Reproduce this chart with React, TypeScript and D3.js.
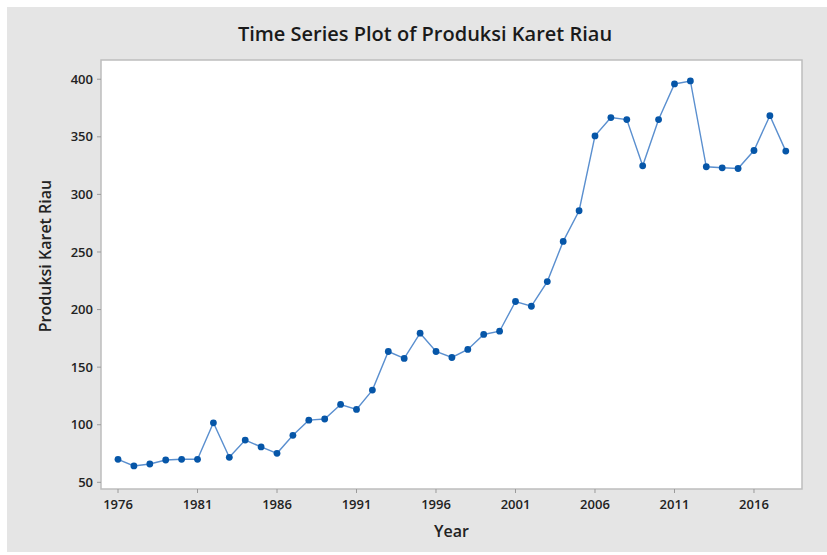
import React from "react";
import * as d3 from "d3";

const years: number[] = [
  1976, 1977, 1978, 1979, 1980, 1981, 1982, 1983, 1984, 1985, 1986, 1987, 1988, 1989, 1990,
  1991, 1992, 1993, 1994, 1995, 1996, 1997, 1998, 1999, 2000, 2001, 2002, 2003, 2004, 2005,
  2006, 2007, 2008, 2009, 2010, 2011, 2012, 2013, 2014, 2015, 2016, 2017, 2018,
];
const produksi: number[] = [
  70, 64.2, 65.9, 69.4, 70, 70, 101.7, 71.7, 86.7, 80.7, 75.2, 90.8, 104, 105, 117.6,
  113.3, 130.1, 163.6, 157.6, 179.5, 163.6, 158.4, 165.4, 178.4, 181.2, 207, 202.9, 224.3, 259.2, 285.8,
  350.8, 366.7, 365, 324.8, 365, 395.9, 398.5, 324, 323.1, 322.5, 338.1, 368.4, 337.6,
];
const xTicks: number[] = [1976, 1981, 1986, 1991, 1996, 2001, 2006, 2011, 2016];
const yTicks: number[] = [50, 100, 150, 200, 250, 300, 350, 400];
const title = "Time Series Plot of Produksi Karet Riau";
const xLabel = "Year";
const yLabel = "Produksi Karet Riau";

const W = 827;
const H = 555;
const plot = { left: 101, right: 802, top: 60, bottom: 489 };
const FONT = "'Open Sans', 'Noto Sans', sans-serif";

export default function App() {
  const x = d3.scaleLinear().domain([1974.93, 2019.02]).range([plot.left, plot.right]);
  const y = d3.scaleLinear().domain([44.2, 416.7]).range([plot.bottom, plot.top]);
  const pts = years.map((yr, i) => [yr, produksi[i]] as [number, number]);
  const line = d3
    .line<[number, number]>()
    .x((d) => x(d[0]))
    .y((d) => y(d[1]));

  return (
    <svg
      width={W}
      height={H}
      style={{ position: "absolute", left: 0, top: 0, background: "#ffffff" }}
      fontFamily={FONT}
    >
      <rect x={7} y={7} width={W - 7} height={H - 10} fill="#e5e5e5" />
      <rect
        x={plot.left}
        y={plot.top}
        width={plot.right - plot.left}
        height={plot.bottom - plot.top}
        fill="#ffffff"
        stroke="#bdbdbd"
        strokeWidth={1.5}
      />
      <text
        x={425}
        y={41}
        textAnchor="middle"
        fontSize={20}
        fontWeight={600}
        fill="#1a1a1a"
      >
        {title}
      </text>
      {yTicks.map((t) => (
        <g key={"y" + t}>
          <line x1={plot.left - 4} x2={plot.left} y1={y(t)} y2={y(t)} stroke="#9a9a9a" strokeWidth={1} />
          <text x={93} y={y(t)} dy="0.35em" textAnchor="end" fontSize={13} fontWeight={600} fill="#222">
            {t}
          </text>
        </g>
      ))}
      {xTicks.map((t) => (
        <g key={"x" + t}>
          <line x1={x(t)} x2={x(t)} y1={plot.bottom} y2={plot.bottom + 4} stroke="#9a9a9a" strokeWidth={1} />
          <text x={x(t)} y={509} textAnchor="middle" fontSize={13} fontWeight={600} fill="#222">
            {t}
          </text>
        </g>
      ))}
      <text
        x={(plot.left + plot.right) / 2}
        y={537}
        textAnchor="middle"
        fontSize={16}
        fontWeight={600}
        fill="#222"
      >
        {xLabel}
      </text>
      <text
        transform={`translate(51, 256) rotate(-90)`}
        textAnchor="middle"
        fontSize={16}
        fontWeight={600}
        fill="#222"
      >
        {yLabel}
      </text>
      <path d={line(pts) || ""} fill="none" stroke="#5a8fcf" strokeWidth={1.4} />
      {pts.map((d, i) => (
        <circle key={i} cx={x(d[0])} cy={y(d[1])} r={3.4} fill="#0656a8" />
      ))}
    </svg>
  );
}
